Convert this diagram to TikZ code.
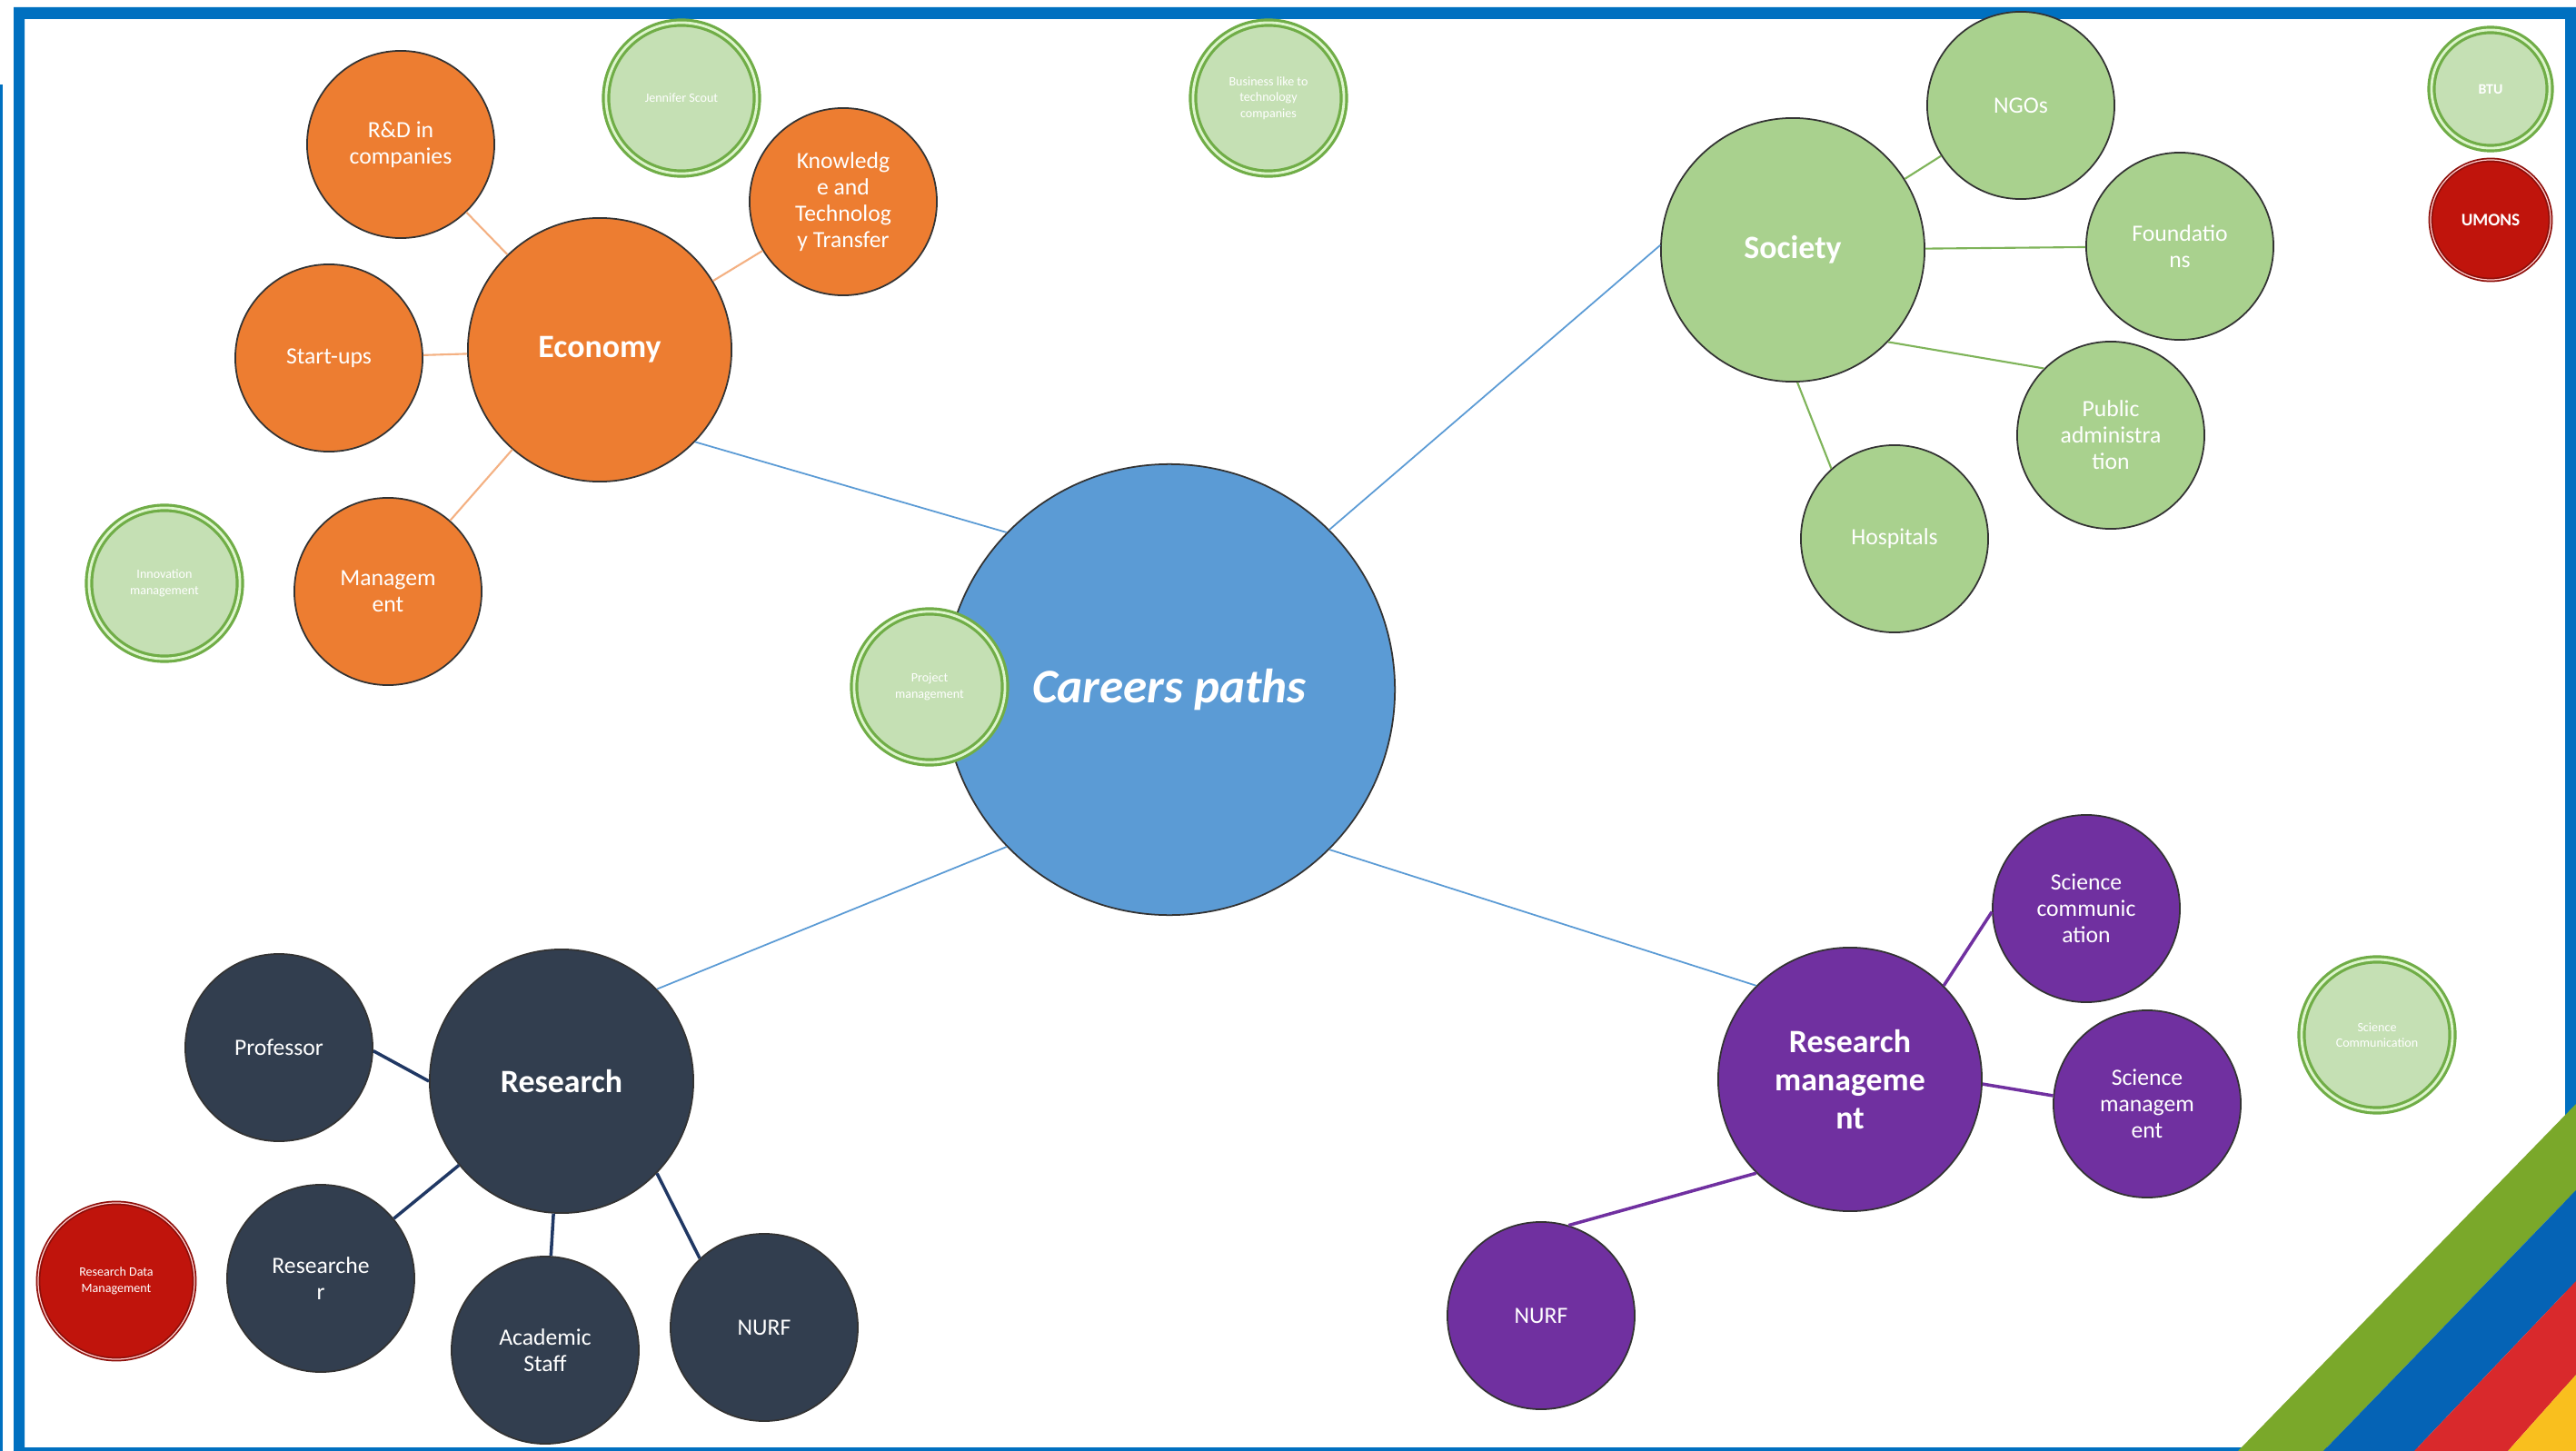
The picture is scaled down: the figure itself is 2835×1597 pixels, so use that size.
\documentclass[tikz,border=0pt]{standalone}
\usepackage{fontspec}
\setmainfont{Carlito}
\definecolor{frameblue}{HTML}{0070C0}
\definecolor{cpblue}{HTML}{5B9BD5}
\definecolor{ecoor}{HTML}{ED7D31}
\definecolor{ecoline}{HTML}{F4B183}
\definecolor{socgreen}{HTML}{A9D18E}
\definecolor{socline}{HTML}{7FB45A}
\definecolor{navy}{HTML}{323E4F}
\definecolor{navyline}{HTML}{203864}
\definecolor{purp}{HTML}{7030A0}
\definecolor{lgfill}{HTML}{C5E0B4}
\definecolor{lgdraw}{HTML}{70AD47}
\definecolor{lgdouble}{HTML}{DDF5CC}
\definecolor{redfill}{HTML}{C0140C}
\definecolor{reddraw}{HTML}{8E0F0A}
\definecolor{stgreen}{HTML}{7AA82A}
\definecolor{stblue}{HTML}{0563B5}
\definecolor{stred}{HTML}{D9292C}
\definecolor{styellow}{HTML}{F9BF1E}
\tikzset{
  bub/.style={circle, draw=black!80, line width=0.5pt, text=white, align=center, inner sep=0pt},
  center/.style={bub, fill=cpblue, minimum size=4.96cm, font=\fontsize{15.1}{17}\selectfont\bfseries\itshape},
  hub/.style={bub, minimum size=2.9cm, font=\fontsize{10.2}{12}\selectfont\bfseries},
  sub/.style={bub, minimum size=2.06cm, font=\fontsize{7.3}{8.2}\selectfont},
  tag/.style={circle, fill=lgfill, draw=lgdraw, line width=0.9pt, double=lgdouble, double distance=0.8pt, minimum size=1.66cm, text=white, align=center, inner sep=0pt, font=\fontsize{4}{5}\selectfont},
  redtag/.style={circle, fill=redfill, draw=reddraw, line width=0.5pt, double=white!80!red, double distance=0.35pt, text=white, align=center, inner sep=0pt},
  mainline/.style={draw=cpblue, line width=0.5pt},
  ecol/.style={draw=ecoline, line width=0.6pt},
  socl/.style={draw=socline, line width=0.6pt},
  navl/.style={draw=navyline, line width=1pt},
  purl/.style={draw=purp, line width=1pt},
}
\begin{document}
\begin{tikzpicture}[x=0.01cm, y=-0.01cm]
\useasboundingbox (0,0) rectangle (2835,1597);
\fill[white] (0,0) rectangle (2835,1597);
% frame
\fill[frameblue, even odd rule] (15,8) rectangle (2835,1597) (27,21) rectangle (2823,1593);
\fill[frameblue] (0,93) rectangle (3,1597);

% main nodes
\node[center] (cp) at (1287,759) {Careers paths};
\node[hub, fill=ecoor] (eco) at (660,385) {Economy};
\node[hub, fill=socgreen] (soc) at (1973,275) {Society};
\node[hub, fill=navy] (res) at (618,1190) {Research};
\node[hub, fill=purp] (rm) at (2036,1188) {Research\\manageme\\nt};

% economy
\node[sub, fill=ecoor] (rd) at (441,159) {R\&D in\\companies};
\node[sub, fill=ecoor] (ktt) at (928,222) {Knowledg\\e and\\Technolog\\y Transfer};
\node[sub, fill=ecoor] (su) at (362,394) {Start-ups};
\node[sub, fill=ecoor] (mg) at (427,651) {Managem\\ent};

% society
\node[sub, fill=socgreen] (ngo) at (2224,116) {NGOs};
\node[sub, fill=socgreen] (fou) at (2399,271) {Foundatio\\ns};
\node[sub, fill=socgreen] (pub) at (2323,479) {Public\\administra\\tion};
\node[sub, fill=socgreen] (hos) at (2085,593) {Hospitals};

% research
\node[sub, fill=navy] (prof) at (307,1153) {Professor};
\node[sub, fill=navy] (rsr) at (353,1407) {Researche\\r};
\node[sub, fill=navy] (acs) at (600,1486) {Academic\\Staff};
\node[sub, fill=navy] (nurf1) at (841,1461) {NURF};

% research management
\node[sub, fill=purp] (sc) at (2296,1000) {Science\\communic\\ation};
\node[sub, fill=purp] (sm) at (2363,1215) {Science\\managem\\ent};
\node[sub, fill=purp] (nurf2) at (1696,1448) {NURF};

% tags
\node[tag] (inn) at (181,642) {Innovation\\management};
\node[tag] (js) at (750,108) {Jennifer Scout};
\node[tag] (blt) at (1396,108) {Business like to\\technology\\companies};
\node[tag] (pm) at (1023,756) {Project\\management};
\node[tag] (scc) at (2616,1139) {Science\\Communication};
\node[tag, minimum size=1.3cm, font=\fontsize{4.5}{5}\selectfont\bfseries] (btu) at (2741,98) {BTU};
\node[redtag, minimum size=1.32cm, font=\fontsize{5.5}{6}\selectfont\bfseries] (umons) at (2741,242) {UMONS};
\node[redtag, minimum size=1.72cm, font=\fontsize{4}{5}\selectfont] (rdm) at (128,1410) {Research Data\\Management};

% main connectors
\draw[mainline] (cp.136) -- (eco.-44);
\draw[mainline] (cp.45) -- (soc.178);
\draw[mainline] (cp.224) -- (res.44);
\draw[mainline] (cp.-45) -- (rm.135);

% economy connectors
\draw[ecol] (eco) -- (rd);
\draw[ecol] (eco) -- (ktt);
\draw[ecol] (eco) -- (su);
\draw[ecol] (eco) -- (mg);

% society connectors
\draw[socl] (soc) -- (ngo);
\draw[socl] (soc) -- (fou);
\draw[socl] (soc.-44) -- (pub.135);
\draw[socl] (soc.-88) -- (hos.132);

% research connectors
\draw[navl] (res.180) -- (prof.-2);
\draw[navl] (res) -- (rsr);
\draw[navl] (res) -- (acs);
\draw[navl] (res.-44) -- (nurf1.133);

% research management connectors
\draw[purl] (rm.45) -- (sc.182);
\draw[purl] (rm.-2) -- (sm.175);
\draw[purl] (rm.225) -- (nurf2.73);

% corner stripes
\fill[stgreen] (2463,1597) -- (2835,1215) -- (2835,1310) -- (2557,1597) -- cycle;
\fill[stblue] (2557,1597) -- (2835,1310) -- (2835,1410) -- (2657,1597) -- cycle;
\fill[stred] (2657,1597) -- (2835,1410) -- (2835,1513) -- (2760,1597) -- cycle;
\fill[styellow] (2760,1597) -- (2835,1513) -- (2835,1597) -- cycle;
\end{tikzpicture}
\end{document}
